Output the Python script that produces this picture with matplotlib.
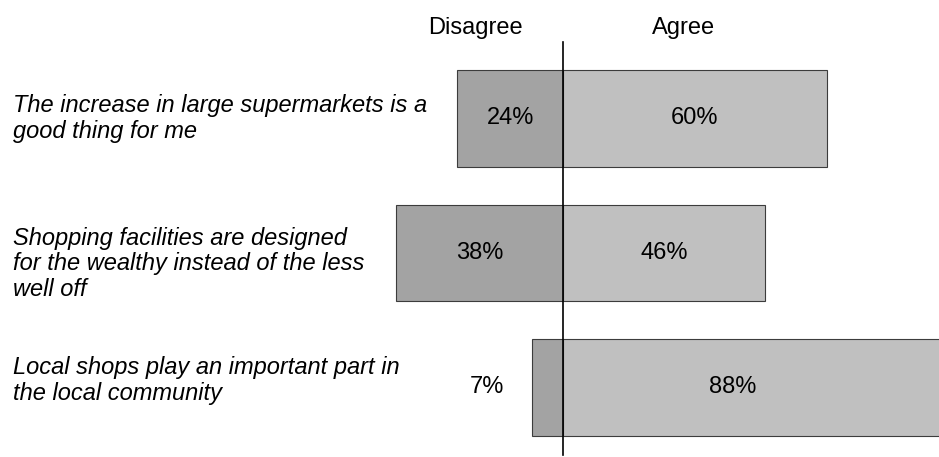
import matplotlib
matplotlib.use("Agg")
import matplotlib.pyplot as plt

statements = [
    "The increase in large supermarkets is a\ngood thing for me",
    "Shopping facilities are designed\nfor the wealthy instead of the less\nwell off",
    "Local shops play an important part in\nthe local community",
]
disagree = [24, 38, 7]
agree = [60, 46, 88]

plt.rcParams['font.family'] = ['Liberation Sans', 'DejaVu Sans']

fig = plt.figure(figsize=(9.39, 4.57), dpi=100)
ax = fig.add_axes([0, 0, 1, 1])

# pixel layout: centre line at x=563, 4.4 px per percent, rows 134.5 px apart
ax.set_xlim(-563 / 4.4, (939 - 563) / 4.4)
ax.set_ylim(2.517, -0.881)
ax.axis('off')

rows = list(range(len(statements)))
ax.barh(rows, [-d for d in disagree], height=0.72, color='#a3a3a3',
        edgecolor='#3c3c3c', linewidth=0.8)
ax.barh(rows, agree, height=0.72, color='#c0c0c0',
        edgecolor='#3c3c3c', linewidth=0.8)

ax.plot([0, 0], [-0.569, 2.502], color='black', linewidth=1.2, clip_on=False)

fs = 17
ax.text(-19.8, -0.673, "Disagree", ha='center', va='center', fontsize=fs)
ax.text(27.5, -0.673, "Agree", ha='center', va='center', fontsize=fs)

label_offsets = [0.0, 0.08, -0.05]
for i, s in enumerate(statements):
    ax.text(-125.0, i + label_offsets[i], s, ha='left', va='center',
            fontsize=fs, style='italic', linespacing=1.15)

for i in rows:
    d = disagree[i]
    x = -d / 2 if d >= 15 else -(d + 10.3)
    ax.text(x, i, f"{d}%", ha='center', va='center', fontsize=fs)
    a = agree[i]
    ax.text(min(a, 77) / 2, i, f"{a}%", ha='center', va='center', fontsize=fs)

fig.savefig("out.png", dpi=100)
